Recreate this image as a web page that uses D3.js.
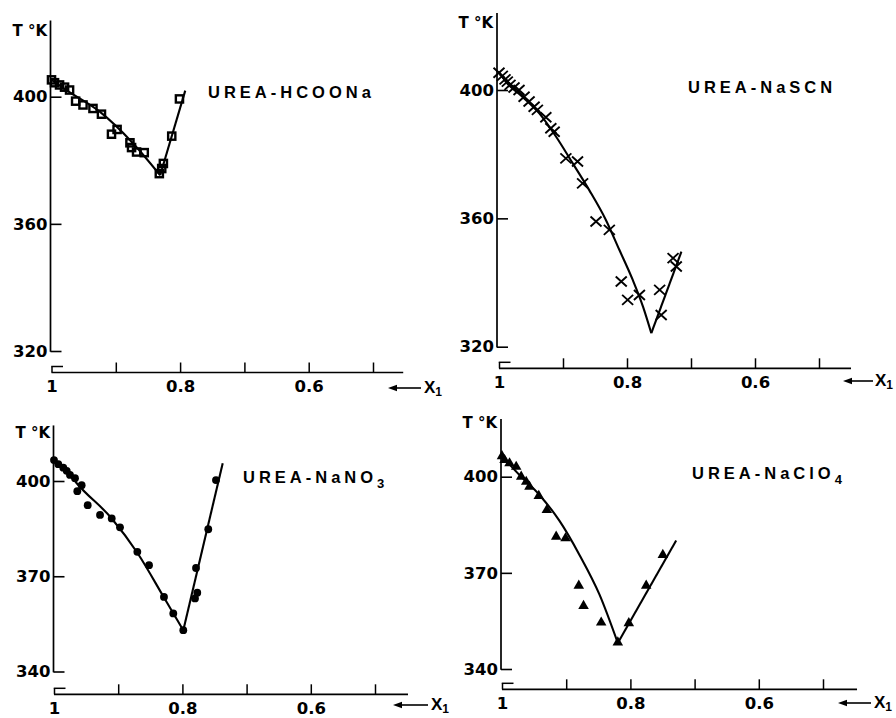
<!DOCTYPE html>
<html><head><meta charset="utf-8">
<script src="https://cdn.jsdelivr.net/npm/d3@7"></script>
<style>body{margin:0;background:#fff}svg{display:block}</style>
</head><body><svg id="c" width="896" height="718"></svg>
<script>
// ---------- DATA ----------
const xTicks = [1, 0.9, 0.8, 0.7, 0.6, 0.5];
const xTickLabels = {"1": "1", "0.8": "0.8", "0.6": "0.6"};
const yTicksTop = [320, 360, 400];
const yTicksBottom = [340, 370, 400];

// UREA-HCOONa
const hcoonaX = [1.0,0.9953,0.9875,0.9797,0.9719,0.9625,0.951,0.9355,0.9223,0.9067,0.898,0.878,0.8755,0.8677,0.8558,0.8323,0.8286,0.826,0.813,0.801];
const hcoonaT = [405.3,404.4,403.7,403.0,402.1,398.6,397.4,396.3,394.5,388.2,389.7,385.5,384.0,382.6,382.4,375.8,377.4,379.0,387.6,399.3];
const hcoonaCurveAX = [1.0,0.977,0.925,0.873,0.831];
const hcoonaCurveAT = [405.3,402.1,395.3,385.3,375.3];
const hcoonaCurveBX = [0.831,0.792];
const hcoonaCurveBT = [375.3,401.9];

// UREA-NaSCN
const nascnX = [1.0,0.9948,0.9906,0.987,0.9828,0.9765,0.9687,0.9608,0.953,0.9451,0.94,0.9268,0.919,0.9138,0.8955,0.8773,0.8694,0.8484,0.8276,0.809,0.799,0.7806,0.749,0.7466,0.728,0.723];
const nascnT = [405.4,404.4,403.3,402.6,401.6,400.8,400.0,397.9,396.4,394.8,393.8,391.5,388.1,387.0,378.7,377.7,370.9,359.0,356.4,340.3,334.6,336.1,337.7,329.9,347.6,345.0];
const nascnCurveAX = [1.0,0.9895,0.9635,0.937,0.911,0.885,0.859,0.833,0.812,0.791,0.775,0.762];
const nascnCurveAT = [405.7,402.6,397.9,392.7,385.5,377.2,368.8,359.5,350.2,340.8,332.5,324.2];
const nascnCurveBX = [0.762,0.715];
const nascnCurveBT = [324.2,349.6];

// UREA-NaNO3
const nano3X = [1.0,0.9933,0.9855,0.9802,0.9751,0.9673,0.9637,0.9569,0.9475,0.9283,0.9101,0.8972,0.8702,0.852,0.8287,0.8142,0.7986,0.7804,0.7768,0.7788,0.7597,0.7477];
const nano3T = [406.6,405.3,404.2,403.2,401.9,400.9,396.8,398.7,392.4,389.3,388.2,385.4,377.7,373.5,363.5,358.3,353.0,363.0,364.8,372.6,384.8,400.3];
const nano3CurveAX = [1.0,0.980,0.9646,0.9101,0.8702,0.8287,0.7986];
const nano3CurveAT = [406.6,403.2,399.3,388.2,377.4,363.3,353.0];
const nano3CurveBX = [0.7986,0.7372];
const nano3CurveBT = [353.0,405.6];

// UREA-NaClO4
const naclo4X = [1.0,0.996,0.9883,0.9779,0.9701,0.9623,0.9572,0.9427,0.9302,0.9156,0.9011,0.8804,0.873,0.8455,0.8196,0.8025,0.7754,0.7495];
const naclo4T = [406.4,405.2,404.2,403.1,400.0,398.4,396.9,394.0,389.6,381.3,380.8,366.0,359.7,354.5,348.3,354.3,366.0,375.6];
const naclo4CurveAX = [1.0,0.9727,0.9416,0.9104,0.8793,0.8481,0.8196];
const naclo4CurveAT = [406.4,400.5,394.3,386.2,375.6,363.2,348.1];
const naclo4CurveBX = [0.8196,0.7287];
const naclo4CurveBT = [348.1,380.1];

// ---------- LAYOUT ----------
const panels = [
  {title:["UREA-HCOONa",""], px:hcoonaX, pt:hcoonaT, ax:hcoonaCurveAX, at:hcoonaCurveAT, bx:hcoonaCurveBX, bt:hcoonaCurveBT,
   marker:"square", yTicks:yTicksTop, xr:[51.5,373], yr:[351,96.7], yAxisX:50.5, yTop:424, xAxisY:372.5, xEnd:0.453,
   titleX:208, titleY:98, tkX:47, tkY:36, arrowX0:388, arrowX1:421, arrowY:388, xlabX:424},
  {title:["UREA-NaSCN",""], px:nascnX, pt:nascnT, ax:nascnCurveAX, at:nascnCurveAT, bx:nascnCurveBX, bt:nascnCurveBT,
   marker:"cross", yTicks:yTicksTop, xr:[499,819], yr:[346.7,90], yAxisX:497, yTop:424, xAxisY:368.3, xEnd:0.45,
   titleX:688, titleY:93, tkX:493, tkY:28, arrowX0:843, arrowX1:873, arrowY:381, xlabX:875},
  {title:["UREA-NaNO","3"], px:nano3X, pt:nano3T, ax:nano3CurveAX, at:nano3CurveAT, bx:nano3CurveBX, bt:nano3CurveBT,
   marker:"circle", yTicks:yTicksBottom, xr:[54,375], yr:[671.5,481], yAxisX:53.5, yTop:417.5, xAxisY:694.3, xEnd:0.4486,
   titleX:243, titleY:483, tkX:50, tkY:438, arrowX0:393, arrowX1:428, arrowY:705, xlabX:431},
  {title:["UREA-NaClO","4"], px:naclo4X, pt:naclo4T, ax:naclo4CurveAX, at:naclo4CurveAT, bx:naclo4CurveBX, bt:naclo4CurveBT,
   marker:"triangle", yTicks:yTicksBottom, xr:[502,823], yr:[669,476.7], yAxisX:501, yTop:418, xAxisY:689.3, xEnd:0.447,
   titleX:692, titleY:479, tkX:497, tkY:428, arrowX0:838, arrowX1:871, arrowY:703, xlabX:874}
];

const svg = d3.select("#c");
const numFont = "'DejaVu Sans', sans-serif";
const lblFont = "'Liberation Sans', Arial, sans-serif";

panels.forEach(p => {
  const g = svg.append("g");
  const x = d3.scaleLinear().domain([1, 0.5]).range(p.xr);
  const y = d3.scaleLinear().domain([p.yTicks[0], 400]).range(p.yr);

  // Y axis
  const ya = d3.axisLeft(y).tickValues(p.yTicks).tickSizeInner(-11).tickSizeOuter(0).tickPadding(3).tickFormat(d3.format("d"));
  const yg = g.append("g").attr("transform", `translate(${p.yAxisX},0)`).call(ya)
    .attr("font-family", numFont).attr("font-size", 16.5).attr("font-weight", "bold");
  yg.select(".domain").remove();
  yg.selectAll(".tick line").attr("stroke", "#000").attr("stroke-width", 1.6);
  yg.selectAll(".tick text").attr("fill", "#000");
  g.append("line").attr("x1", p.yAxisX).attr("x2", p.yAxisX)
    .attr("y1", y(p.yTicks[0]) + 0.8).attr("y2", y(p.yTop))
    .attr("stroke", "#000").attr("stroke-width", 1.7);

  // X axis
  const xa = d3.axisBottom(x).tickValues(xTicks).tickSizeInner(-10).tickSizeOuter(0).tickPadding(8)
    .tickFormat(d => xTickLabels[String(d)] || "");
  const xg = g.append("g").attr("transform", `translate(0,${p.xAxisY})`).call(xa)
    .attr("font-family", numFont).attr("font-size", 16.5).attr("font-weight", "bold");
  xg.select(".domain").remove();
  xg.selectAll(".tick line").attr("stroke", "#000").attr("stroke-width", 1.5);
  xg.selectAll(".tick text").attr("fill", "#000");
  // axis-break bracket at x = 1
  xg.selectAll(".tick").filter(d => d === 1).each(function() {
    const t = d3.select(this);
    t.select("line").attr("y2", -6);
    t.append("line").attr("x1", -0.75).attr("x2", 11).attr("y1", -6).attr("y2", -6)
      .attr("stroke", "#000").attr("stroke-width", 1.5);
  });
  g.append("line").attr("x1", x(1)).attr("x2", x(p.xEnd)).attr("y1", p.xAxisY).attr("y2", p.xAxisY)
    .attr("stroke", "#000").attr("stroke-width", 1.7);

  // arrow + X1
  g.append("line").attr("x1", p.arrowX0 + 6).attr("x2", p.arrowX1).attr("y1", p.arrowY).attr("y2", p.arrowY)
    .attr("stroke", "#000").attr("stroke-width", 1.6);
  g.append("path").attr("d", `M${p.arrowX0},${p.arrowY}L${p.arrowX0 + 9},${p.arrowY - 3.2}L${p.arrowX0 + 9},${p.arrowY + 3.2}Z`)
    .attr("fill", "#000");
  const xl = g.append("text").attr("x", p.xlabX).attr("y", p.arrowY + 5)
    .attr("font-family", lblFont).attr("font-weight", "bold").attr("font-size", 17).attr("fill", "#000");
  xl.append("tspan").text("X");
  xl.append("tspan").attr("dy", 3).attr("font-size", 12).text("1");

  // T °K
  g.append("text").attr("x", p.tkX).attr("y", p.tkY).attr("text-anchor", "end")
    .attr("font-family", numFont).attr("font-weight", "bold").attr("font-size", 15).attr("fill", "#000")
    .text("T °K");

  // Title
  const tt = g.append("text").attr("x", p.titleX).attr("y", p.titleY)
    .attr("font-family", lblFont).attr("font-weight", "bold").attr("font-size", 16.5)
    .attr("letter-spacing", 4).attr("fill", "#000");
  tt.append("tspan").text(p.title[0]);
  if (p.title[1]) tt.append("tspan").attr("dy", 5).attr("font-size", 13).text(p.title[1]);

  // Curves
  const lineA = d3.line().x(d => x(d[0])).y(d => y(d[1])).curve(d3.curveMonotoneX);
  const lineB = d3.line().x(d => x(d[0])).y(d => y(d[1]));
  g.append("path").attr("d", lineA(p.ax.map((v, i) => [v, p.at[i]])))
    .attr("fill", "none").attr("stroke", "#000").attr("stroke-width", 2.1);
  g.append("path").attr("d", lineB(p.bx.map((v, i) => [v, p.bt[i]])))
    .attr("fill", "none").attr("stroke", "#000").attr("stroke-width", 2.1);

  // Points
  const pts = p.px.map((v, i) => [v, p.pt[i]]);
  const mg = g.append("g");
  pts.forEach(d => {
    const cx = x(d[0]), cy = y(d[1]);
    if (p.marker === "square") {
      mg.append("rect").attr("x", cx - 3.6).attr("y", cy - 3.6).attr("width", 7.2).attr("height", 7.2)
        .attr("fill", "none").attr("stroke", "#000").attr("stroke-width", 2.4);
    } else if (p.marker === "cross") {
      mg.append("path").attr("d", `M${cx - 5.5},${cy - 5}L${cx + 5.5},${cy + 5}M${cx - 5.5},${cy + 5}L${cx + 5.5},${cy - 5}`)
        .attr("stroke", "#000").attr("stroke-width", 1.9).attr("fill", "none");
    } else if (p.marker === "circle") {
      mg.append("circle").attr("cx", cx).attr("cy", cy).attr("r", 3.9).attr("fill", "#000");
    } else {
      mg.append("path").attr("transform", `translate(${cx},${cy})`)
        .attr("d", d3.symbol(d3.symbolTriangle).size(48)()).attr("fill", "#000");
    }
  });
});
</script></body></html>
